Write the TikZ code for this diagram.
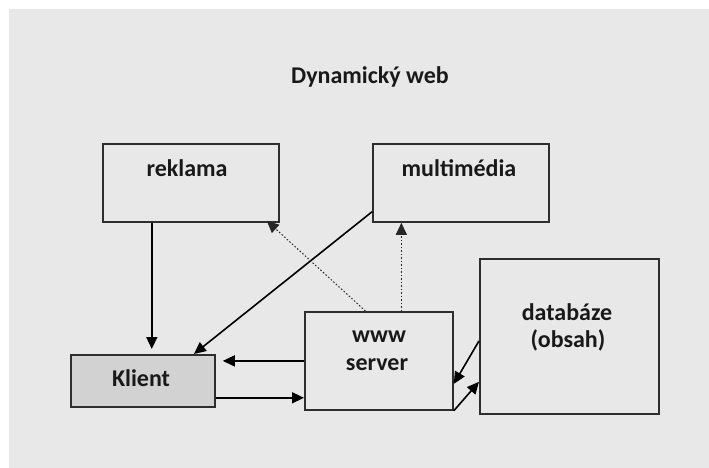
\documentclass[tikz,border=0pt]{standalone}
\usepackage{fontspec}
\setmainfont{Carlito}
\usetikzlibrary{arrows.meta,calc}
\definecolor{pozadi}{HTML}{E8E8E8}
\definecolor{okraj}{HTML}{2E2E2E}
\definecolor{klientfill}{HTML}{D2D2D2}
\tikzset{
	box/.style={draw=okraj, line width=1.8pt, anchor=north west, inner sep=0pt},
	popis/.style={font=\fontsize{24}{27}\selectfont\bfseries, text=black!90, inner sep=0pt},
	sipka/.style={draw=black, line width=1.6pt, -{Triangle[length=12pt,width=11pt]}},
	tecky/.style={draw=black!85, line width=1pt, dash pattern=on 1.5pt off 2pt, -{Triangle[length=12pt,width=11pt]}}
}
\begin{document}
\begin{tikzpicture}[x=1pt,y=-1pt]
	\useasboundingbox (0,0) rectangle (709,468);
	\fill[pozadi] (9,9) rectangle (709,468);
	
	\node[popis] (nadpis) at (370,77) {Dynamický web};
	
	% boxes
	\node[box, minimum width=176pt, minimum height=78pt] (reklama) at (102,143) {};
	\node[box, minimum width=176pt, minimum height=78pt] (multimedia) at (372,143) {};
	\node[box, minimum width=179pt, minimum height=155pt] (databaze) at (479,258) {};
	\node[box, minimum width=148pt, minimum height=98pt] (server) at (304,311) {};
	\node[box, fill=klientfill, minimum width=144pt, minimum height=52pt] (klient) at (70,354) {};
	
	\node[popis] (reklamatext) at (187,168) {reklama};
	\node[popis] (multimediatext) at (459,168) {multimédia};
	\node[popis] (databazetext) at (567,312) {databáze};
	\node[popis] (obsahtext) at (568,340) {(obsah)};
	\node[popis] (wwwtext) at (379,337) {www};
	\node[popis] (servertext) at (377,365) {server};
	\node[popis] (klienttext) at (141,378) {Klient};
	
	% connectors
	\coordinate (r1) at ($(reklama.south west)!0.28!(reklama.south east)$);
	\draw[sipka, shorten >=5pt] (r1) -- (r1 |- klient.north);
	\draw[sipka] ($(multimedia.south west)+(0,-11)$) -- ($(klient.north west)!0.85!(klient.north east)$);
	
	\coordinate (s1) at ($(server.north west)!0.41!(server.north east)$);
	\coordinate (s2) at ($(server.north west)!0.65!(server.north east)$);
	\draw[tecky] (s1) -- ($(reklama.south east)+(-13,-2)$);
	\draw[tecky] (s2) -- (s2 |- multimedia.south);
	
	\draw[sipka, shorten >=7pt] (server.west) -- (server.west -| klient.east);
	\coordinate (k1) at ($(klient.south east)+(0,-10)$);
	\draw[sipka] (k1) -- (k1 -| server.west);
	
	\draw[sipka] ($(databaze.west)+(0,4.5)$) -- ($(server.east)+(0,23)$);
	\draw[sipka] (server.south east) -- ($(databaze.south west)+(0,-33)$);
\end{tikzpicture}
\end{document}
